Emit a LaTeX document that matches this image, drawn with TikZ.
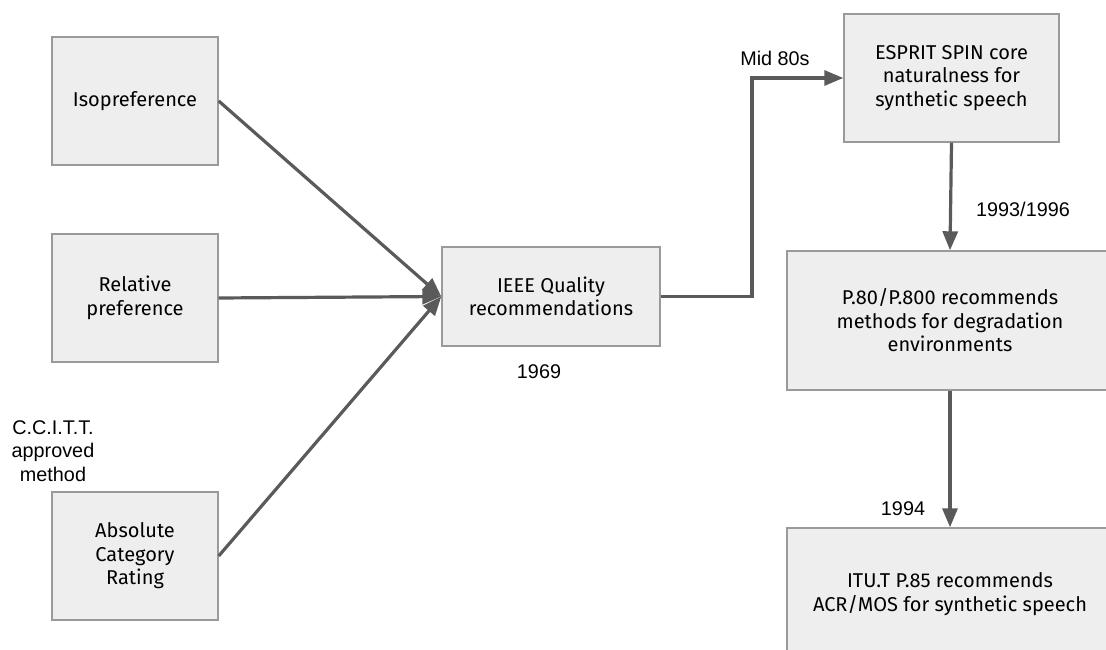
\documentclass[tikz,border=0pt]{standalone}
\usepackage{fontspec}
\setmainfont{Fira Sans}
\newfontfamily\lblfont{Liberation Sans}
\usepackage{tikz}
\usetikzlibrary{arrows.meta}
\definecolor{boxfill}{HTML}{EEEEEE}
\definecolor{boxline}{HTML}{9A9A9A}
\definecolor{arrowgray}{HTML}{5A5A5A}

\begin{document}
\begin{tikzpicture}[x=1pt,y=-1pt,
	box/.style={draw=boxline,fill=boxfill,line width=1.4pt,align=center,inner sep=0pt,
		font=\fontsize{20}{23.5}\selectfont},
	arr/.style={draw=arrowgray,line width=3.2pt,-{Triangle[length=19pt,width=15pt]}},
	lbl/.style={align=center,inner sep=0pt,font=\lblfont\fontsize{19.8}{23.5}\selectfont}]
\useasboundingbox (0,0) rectangle (1106,650);
\clip (0,0) rectangle (1106,650);

\node[box,minimum width=166pt,minimum height=128pt] (iso) at (135,101) {Isopreference};
\node[box,minimum width=166pt,minimum height=128pt] (rel) at (135,298) {Relative\\preference};
\node[box,minimum width=166pt,minimum height=128pt] (acr) at (135,556) {Absolute\\Category\\Rating};

\node[box,minimum width=218pt,minimum height=99pt] (ieee) at (551,296.5) {IEEE Quality\\recommendations};

\node[box,minimum width=215pt,minimum height=128pt] (esprit) at (951.5,78) {ESPRIT SPIN core\\naturalness for\\synthetic speech};
\node[box,minimum width=326pt,minimum height=139pt] (ptu) at (950,320.5) {P.80/P.800 recommends\\methods for degradation\\environments};
\node[box,minimum width=326pt,minimum height=132pt] (itu) at (950,594) {ITU.T P.85 recommends\\ACR/MOS for synthetic speech};

\node[lbl] (ccitt) at (53,451) {C.C.I.T.T.\\approved\\method};
\node[lbl] (mid) at (775,58) {Mid 80s};
\node[lbl] (y69) at (539,372) {1969};
\node[lbl] (y93) at (1023,209) {1993/1996};
\node[lbl] (y94) at (903,509) {1994};

\coordinate (bend) at (752,0);

\draw[arr] (iso.east) -- (ieee.west);
\draw[arr] (rel.east) -- (ieee.west);
\draw[arr] (acr.east) -- (ieee.west);
\draw[arr] (ieee.east) -- (ieee.east -| bend) |- (esprit.west);
\draw[arr] (esprit.south) -- (ptu.north);
\draw[arr] (ptu.south) -- (itu.north);
\end{tikzpicture}
\end{document}
